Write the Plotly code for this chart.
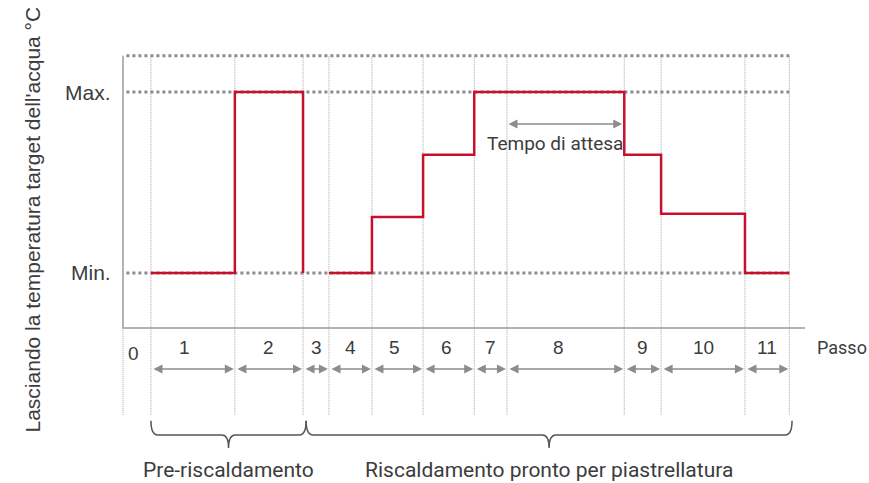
import plotly.graph_objects as go

# ---------------- data ----------------
steps = ["1", "2", "3", "4", "5", "6", "7", "8", "9", "10", "11"]
# step boundaries (time units, y-axis at 0)
boundaries = [4.1, 16.4, 26.4, 30.2, 36.5, 44.0, 51.5, 56.3, 73.5, 78.9, 91.2, 97.7]
MIN_T, MAX_T = 1.0, 4.0
TOP_T = 4.6
AXIS_T = 0.09
# target temperature level per step (None = no target)
step_levels = [1.0, 4.0, None, 1.0, 1.93, 2.96, 4.0, 4.0, 2.96, 1.98, 1.0]
level_ticks = [MAX_T, MIN_T]
level_labels = ["Max.", "Min."]
phases = ["Pre-riscaldamento", "Riscaldamento pronto per piastrellatura"]
phase_steps = [(0, 1), (2, 10)]
wait_step = 7
wait_label = "Tempo di attesa"
x_title = "Passo"
y_title = "Lasciando la temperatura target dell'acqua °C"

RED = "#c8102e"
GRAY = "#8c8c8c"
TXT = "#3c3c3c"
SANS = "Liberation Sans, Arial, sans-serif"
ROBO = "Roboto, sans-serif"

fig = go.Figure()

# vertical dotted grid lines
gx, gy = [], []
for b in boundaries:
    gx += [b, b, None]
    gy += [TOP_T, -1.35, None]
gx += [0, 0, None]
gy += [AXIS_T, -1.35, None]
fig.add_trace(go.Scatter(x=gx, y=gy, mode="lines", hoverinfo="skip",
                         line=dict(color="#a5a5a5", width=1, dash="1px,1px")))

# horizontal dotted reference lines
hx, hy = [], []
for lv in [TOP_T, MAX_T, MIN_T]:
    hx += [0.5, boundaries[-1], None]
    hy += [lv, lv, None]
fig.add_trace(go.Scatter(x=hx, y=hy, mode="lines", hoverinfo="skip",
                         line=dict(color=GRAY, width=3, dash="3px,3px")))

# axes
fig.add_trace(go.Scatter(x=[0, 0, 100], y=[TOP_T, AXIS_T, AXIS_T], mode="lines",
                         hoverinfo="skip", line=dict(color="#9a9a9a", width=1.5)))

# temperature profile
px_, py_ = [], []
n = len(steps)
for i, lv in enumerate(step_levels):
    if lv is None:
        continue
    px_ += [boundaries[i], boundaries[i + 1]]
    py_ += [lv, lv]
    nxt = step_levels[i + 1] if i + 1 < n else "end"
    if nxt is None:
        px_ += [boundaries[i + 1], None]
        py_ += [MIN_T, None]
fig.add_trace(go.Scatter(x=px_, y=py_, mode="lines", hoverinfo="skip",
                         line=dict(color=RED, width=2.5)))

ann = []
# level labels
for v, t in zip(level_ticks, level_labels):
    ann.append(dict(x=-1.5, y=v, text=t, showarrow=False, xanchor="right",
                    font=dict(family=SANS, size=21, color=TXT)))
# step labels
ann.append(dict(x=1.47, y=-0.33, text="0", showarrow=False,
                font=dict(family=SANS, size=19, color=TXT)))
label_shift = [-1.3, 0, 0, 0, -0.5, -0.3, 0, -1.0, 0, 0, 0]
for i, s in enumerate(steps):
    c = (boundaries[i] + boundaries[i + 1]) / 2 + label_shift[i]
    ann.append(dict(x=c, y=-0.23, text=s, showarrow=False,
                    font=dict(family=SANS, size=19, color=TXT)))
ann.append(dict(x=105.4, y=-0.23, text=x_title, showarrow=False,
                font=dict(family=ROBO, size=18, color=TXT)))
# step arrows
for i in range(n):
    ann.append(dict(x=boundaries[i + 1] - 0.15, y=-0.59, ax=boundaries[i] + 0.15, ay=-0.59,
                    xref="x", yref="y", axref="x", ayref="y", text="",
                    showarrow=True, arrowside="end+start", arrowhead=2, startarrowhead=2,
                    arrowsize=1.2, startarrowsize=1.2, arrowwidth=1.5, arrowcolor=GRAY))
# waiting time arrow
ann.append(dict(x=boundaries[wait_step + 1] - 0.3, y=3.47, ax=boundaries[wait_step], ay=3.47,
                xref="x", yref="y", axref="x", ayref="y", text="",
                showarrow=True, arrowside="end+start", arrowhead=2, startarrowhead=2,
                arrowsize=1.2, startarrowsize=1.2, arrowwidth=1.5, arrowcolor=GRAY))
ann.append(dict(x=(boundaries[wait_step] + boundaries[wait_step + 1]) / 2 - 1.5, y=3.14,
                text=wait_label, showarrow=False,
                font=dict(family=ROBO, size=19, color=TXT)))
# y title
ann.append(dict(xref="paper", yref="paper", x=18 / 869, y=1 - 220 / 483, text=y_title,
                textangle=-90, showarrow=False,
                font=dict(family=SANS, size=21, color=TXT)))

# braces
shapes = []
top, h, notch = -1.45, -1.685, -1.9
rx = 1.0
for k, (s0, s1) in enumerate(phase_steps):
    x0 = boundaries[s0] + (0.0 if k == 0 else 0.45)
    x1 = boundaries[s1 + 1] + (0.45 if k == 0 else 0.4)
    m = (x0 + x1) / 2
    path = (f"M {x0},{top} Q {x0},{h} {x0 + rx},{h} L {m - rx},{h} "
            f"Q {m},{h} {m},{notch} Q {m},{h} {m + rx},{h} L {x1 - rx},{h} "
            f"Q {x1},{h} {x1},{top}")
    shapes.append(dict(type="path", path=path, xref="x", yref="y",
                       line=dict(color="#555555", width=1.5)))
    ann.append(dict(x=m, y=-2.27, text=phases[k], showarrow=False,
                    font=dict(family=ROBO, size=21, color=TXT)))

fig.update_layout(
    width=869, height=483,
    margin=dict(l=0, r=0, t=0, b=0, pad=0),
    paper_bgcolor="white", plot_bgcolor="white",
    showlegend=False,
    xaxis=dict(visible=False, range=[-18.035, 109.384], fixedrange=True),
    yaxis=dict(visible=False, range=[-2.481, 5.525], fixedrange=True),
    annotations=ann, shapes=shapes,
)

fig.write_html("out.html", config={"displayModeBar": False},
               post_script="document.body.style.margin='0';document.body.style.overflow='hidden';")
